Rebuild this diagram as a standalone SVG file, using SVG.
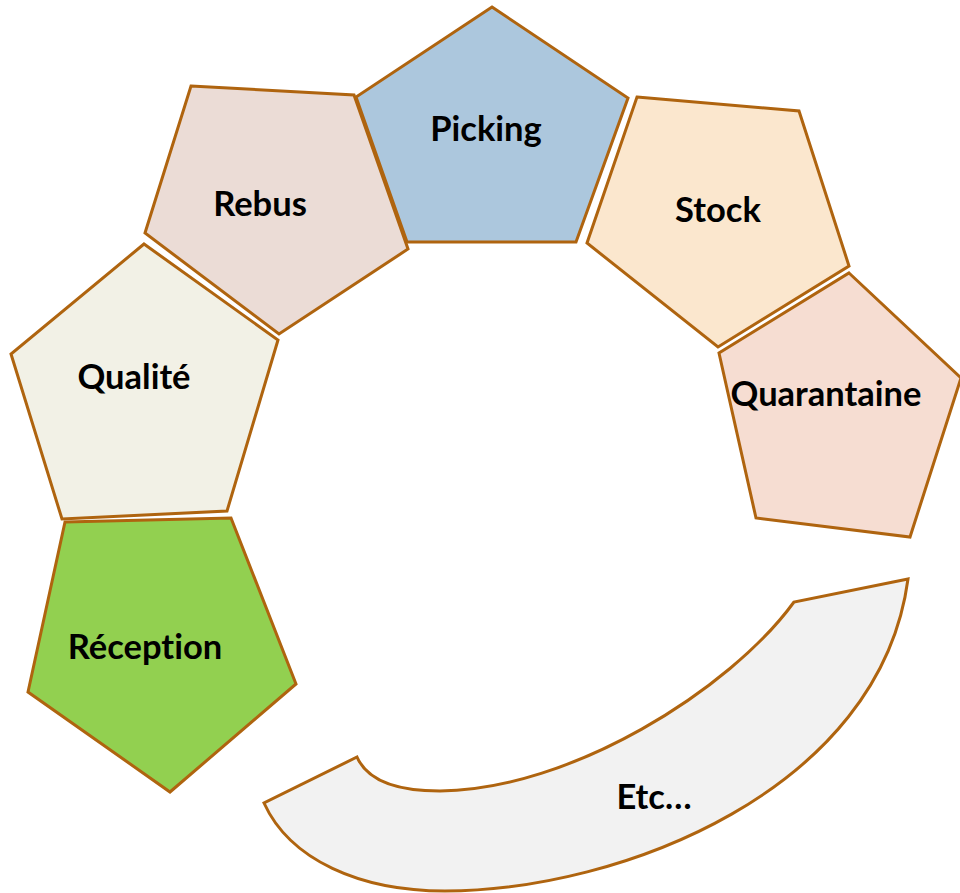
<svg xmlns="http://www.w3.org/2000/svg" width="960" height="893" viewBox="0 0 960 893">
<style>
.s{stroke:#AF640F;stroke-width:3;stroke-linejoin:miter}
.t{font-family:Lato,"Liberation Sans",sans-serif;font-weight:bold;font-size:34.5px;fill:#000;text-anchor:middle;font-variant-ligatures:none}
</style>
<rect width="960" height="893" fill="#fff"/>
<g id="etc">
<path class="s" fill="#F2F2F2" d="M908,579 L794,602 C730,690 570,790 440,791 C395,791 367,780 357,757 L264,803 C290,860 360,891 445,891 C620,891 880,790 908,579 Z"/>
<text class="t" x="654" y="809">Etc…</text>
</g>
<g id="qualite">
<polygon class="s" fill="#F2F1E6" points="144,244 278,340 227,511 62,519 11,354"/>
<text class="t" x="134" y="389">Qualité</text>
</g>
<g id="reception">
<polygon class="s" fill="#92D050" points="65,522 231,518 296,684 170,792 28,692"/>
<text class="t" x="145" y="659">Réception</text>
</g>
<g id="rebus">
<polygon class="s" fill="#EBDCD6" points="191,86 354,95 408,249 279,334 145,233"/>
<text class="t" x="260" y="216">Rebus</text>
</g>
<g id="picking">
<polygon class="s" fill="#ACC7DD" points="492,7 628,98 576,242 407,242 356,97"/>
<text class="t" x="486" y="141">Picking</text>
</g>
<g id="stock">
<polygon class="s" fill="#FBE7CE" points="637,97 799,111 849,266 718,347 587,243"/>
<text class="t" x="718" y="222">Stock</text>
</g>
<g id="quarantaine">
<polygon class="s" fill="#F6DDD2" points="849,273 961,378 910,537 756,518 719,353"/>
<text class="t" x="826" y="406">Quarantaine</text>
</g>
<g id="connectors"/>
</svg>
